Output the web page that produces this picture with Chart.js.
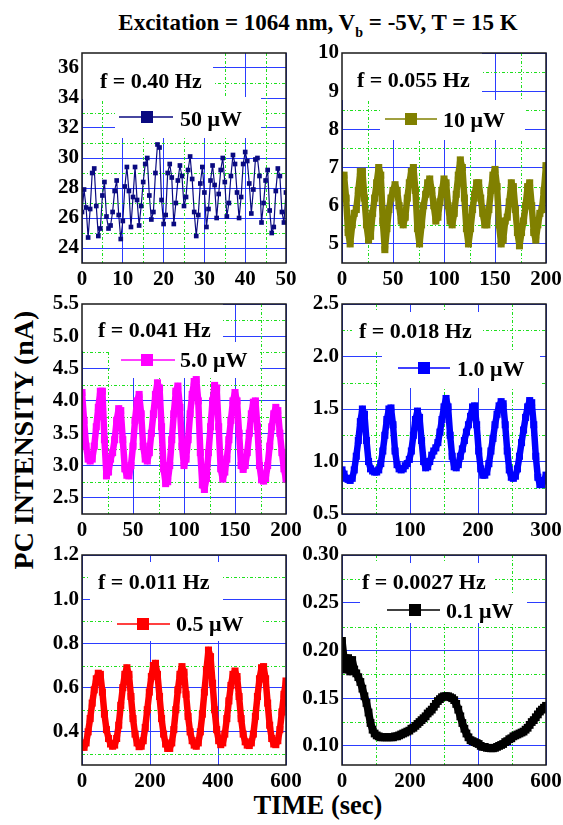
<!DOCTYPE html>
<html>
<head>
<meta charset="utf-8">
<script src="https://cdn.jsdelivr.net/npm/chart.js@4.4.0/dist/chart.umd.min.js"></script>
<style>
  html, body { margin: 0; padding: 0; background: #fff; }
  #page { position: relative; width: 563px; height: 825px; overflow: hidden;
          font-family: 'Liberation Serif', 'Times New Roman', serif; font-weight: bold; color: #000; }
  #page canvas { position: absolute; }
  .txt { position: absolute; white-space: nowrap; transform: translate(-50%, -50%); }
  #title { left: 318px; top: 23px; font-size: 23px; }
  #title .sub { font-size: 14px; position: relative; top: 7px; }
  #ylab { left: 24px; top: 440px; font-size: 28px; transform: translate(-50%, -50%) rotate(-90deg); }
  #xlab { left: 318px; top: 805px; font-size: 26.5px; }
</style>
</head>
<body>
<div id="page">
  <div id="title" class="txt">Excitation = 1064 nm, V<span class="sub">b</span> = -5V, T = 15 K</div>
  <div id="ylab" class="txt">PC INTENSITY (nA)</div>
  <div id="xlab" class="txt">TIME (sec)</div>
</div>
<script>
// ---- panel 1: f = 0.40 Hz, 50 uW, one sample every 0.5 s
const p1Step = 0.5;
const p1Values = [
  26.4, 27.9, 26.7, 24.7, 26.6, 29.0, 29.3, 26.8, 24.8, 25.3,
  27.5, 28.4, 26.1, 25.3, 25.5, 26.4, 27.8, 28.5, 26.2, 24.6,
  25.8, 28.1, 29.4, 27.8, 25.4, 27.4, 29.4, 27.2, 25.5, 26.8,
  28.4, 29.6, 30.0, 27.5, 25.9, 26.4, 29.0, 30.9, 30.7, 27.2,
  25.6, 26.2, 29.0, 29.6, 28.7, 25.6, 27.0, 28.5, 29.5, 28.8,
  26.8, 27.4, 29.2, 30.1, 28.6, 26.4, 24.8, 26.2, 28.3, 29.4,
  27.7, 25.4, 26.6, 28.5, 29.5, 28.2, 26.0, 27.6, 29.2, 30.0,
  28.4, 26.1, 27.0, 28.8, 30.2, 29.6, 27.7, 26.0, 27.4, 29.6,
  30.4, 29.8, 28.3, 26.3, 27.9, 29.9, 30.0, 28.8, 25.7, 27.0,
  28.5, 29.2, 26.5, 25.0, 25.4, 27.8, 29.3, 28.8, 26.4, 25.7,
  27.7
];
const p1XTicks = [0, 10, 20, 30, 40, 50];
const p1XMinor = [5, 15, 25, 35, 45];
const p1YTicks = [24, 26, 28, 30, 32, 34, 36];
const p1YMinor = [25, 27, 29, 31, 33, 35];

// ---- panel 2: f = 0.055 Hz, 10 uW, every 2 s
const p2Step = 2;
const p2Values = [
  6.6, 6.8, 6.2, 5.3, 5.0, 5.5, 5.8, 5.9, 6.4, 6.9,
  6.9, 6.2, 5.5, 5.1, 5.2, 5.8, 6.2, 6.6, 7.0, 6.8,
  5.6, 4.85, 5.4, 5.9, 6.2, 6.4, 6.55, 6.4, 6.0, 5.6,
  5.5, 5.7, 6.2, 6.6, 6.9, 7.0, 6.4, 5.4, 5.0, 5.5,
  6.0, 6.3, 6.6, 6.7, 6.4, 6.0, 5.6, 5.7, 6.1, 6.4,
  6.7, 6.6, 6.0, 5.6, 5.5, 5.8, 6.3, 6.8, 7.2, 7.0,
  6.2, 5.4, 5.0, 5.4, 5.9, 6.3, 6.6, 6.6, 6.2, 5.8,
  5.5, 5.5, 5.9, 6.4, 6.8, 6.95, 6.5, 5.5, 5.0, 5.1,
  5.6, 5.7, 6.1, 6.6, 6.5, 5.9, 5.3, 4.95, 5.3, 5.6,
  6.0, 6.5, 6.6, 6.0, 5.3, 5.1, 5.5, 5.8, 5.9, 6.4,
  7.05
];
const p2XTicks = [0, 50, 100, 150, 200];
const p2XMinor = [25, 75, 125, 175];
const p2YTicks = [5, 6, 7, 8, 9, 10];
const p2YMinor = [5.5, 6.5, 7.5, 8.5, 9.5];

// ---- panel 3: f = 0.041 Hz, 5.0 uW, every 2 s
const p3Step = 2;
const p3Values = [
  4.13, 3.7, 3.3, 3.1, 3.07, 3.1, 3.3, 3.6, 3.9, 4.15,
  4.15, 3.4, 2.84, 2.9, 3.1, 3.2, 3.4, 3.7, 3.88, 3.85,
  3.4, 2.95, 2.85, 2.84, 3.0, 3.3, 3.7, 4.0, 4.1, 3.8,
  3.3, 3.1, 3.07, 3.2, 3.5, 3.8, 4.1, 4.28, 4.2, 3.6,
  2.95, 2.72, 2.75, 3.0, 3.4, 3.8, 4.15, 4.23, 3.9, 3.3,
  3.0, 3.1, 3.4, 3.8, 4.1, 4.3, 4.33, 4.0, 3.2, 2.7,
  2.63, 2.8, 3.2, 3.6, 4.0, 4.24, 4.2, 3.6, 2.95, 2.79,
  2.9, 3.1, 3.4, 3.7, 4.0, 4.13, 4.0, 3.5, 3.0, 2.94,
  3.0, 3.2, 3.5, 3.8, 3.98, 4.0, 3.6, 3.0, 2.78, 2.76,
  2.8, 3.0, 3.3, 3.6, 3.8, 3.9, 3.85, 3.5, 3.2, 2.95,
  2.79
];
const p3XTicks = [0, 50, 100, 150, 200];
const p3XMinor = [25, 75, 125, 175];
const p3YTicks = [2.5, 3.0, 3.5, 4.0, 4.5, 5.0, 5.5];
const p3YMinor = [2.75, 3.25, 3.75, 4.25, 4.75, 5.25];

// ---- panel 4: f = 0.018 Hz, 1.0 uW, every 3 s
const p4Step = 3;
const p4Values = [
  0.92, 0.88, 0.84, 0.83, 0.82, 0.84, 0.92, 1.05, 1.2, 1.38,
  1.5, 1.45, 1.2, 1.0, 0.93, 0.91, 0.9, 0.9, 0.92, 0.98,
  1.1, 1.25, 1.4, 1.5, 1.51, 1.35, 1.1, 0.97, 0.93, 0.92,
  0.93, 0.96, 0.98, 1.02, 1.1, 1.25, 1.4, 1.48, 1.42, 1.2,
  1.0, 0.94, 0.95, 1.0, 1.06, 1.1, 1.13, 1.18, 1.28, 1.4,
  1.52, 1.6, 1.52, 1.25, 1.05, 0.95, 0.94, 0.97, 1.05, 1.12,
  1.2, 1.28, 1.35, 1.43, 1.52, 1.53, 1.35, 1.1, 0.93, 0.87,
  0.87, 0.9, 0.98, 1.1, 1.22, 1.35, 1.45, 1.53, 1.57, 1.55,
  1.35, 1.1, 0.92, 0.85, 0.84, 0.86, 0.93, 1.05, 1.18, 1.3,
  1.42, 1.52, 1.58, 1.56, 1.35, 1.05, 0.85, 0.78, 0.78, 0.82,
  0.87
];
const p4XTicks = [0, 100, 200, 300];
const p4XMinor = [50, 150, 250];
const p4YTicks = [0.5, 1.0, 1.5, 2.0, 2.5];
const p4YMinor = [0.75, 1.25, 1.75, 2.25];

// ---- panel 5: f = 0.011 Hz, 0.5 uW, every 6 s
const p5Step = 6;
const p5Values = [
  0.34, 0.33, 0.35, 0.40, 0.46, 0.53, 0.59, 0.64, 0.665, 0.66,
  0.58, 0.48, 0.41, 0.37, 0.345, 0.335, 0.34, 0.37, 0.43, 0.52,
  0.6, 0.66, 0.69, 0.66, 0.56, 0.46, 0.39, 0.35, 0.333, 0.335,
  0.36, 0.42, 0.5, 0.58, 0.65, 0.7, 0.71, 0.66, 0.56, 0.46,
  0.39, 0.345, 0.325, 0.325, 0.35, 0.41, 0.5, 0.59, 0.66, 0.695,
  0.67, 0.57, 0.47, 0.4, 0.36, 0.34, 0.335, 0.35, 0.4, 0.48,
  0.58, 0.68, 0.77, 0.74, 0.62, 0.5, 0.41, 0.36, 0.342, 0.35,
  0.39, 0.46, 0.54, 0.61, 0.66, 0.675, 0.65, 0.56, 0.46, 0.39,
  0.355, 0.34, 0.338, 0.35, 0.39, 0.47, 0.56, 0.64, 0.69, 0.695,
  0.64, 0.53, 0.43, 0.37, 0.345, 0.342, 0.36, 0.41, 0.49, 0.57,
  0.63
];
const p5XTicks = [0, 200, 400, 600];
const p5XMinor = [];
const p5YTicks = [0.4, 0.6, 0.8, 1.0, 1.2];
const p5YMinor = [0.3, 0.5, 0.7, 0.9, 1.1];

// ---- panel 6: f = 0.0027 Hz, 0.1 uW, every 6 s
const p6Step = 6;
const p6Values = [
  0.21, 0.19, 0.18, 0.192, 0.178, 0.19, 0.18, 0.176, 0.172, 0.167,
  0.16, 0.152, 0.145, 0.135, 0.124, 0.117, 0.113, 0.111, 0.11, 0.109,
  0.109, 0.109, 0.109, 0.109, 0.109, 0.109, 0.11, 0.11, 0.111, 0.112,
  0.113, 0.114, 0.115, 0.116, 0.118, 0.119, 0.121, 0.123, 0.125, 0.127,
  0.129, 0.131, 0.134, 0.136, 0.138, 0.141, 0.144, 0.147, 0.149, 0.151,
  0.152, 0.152, 0.152, 0.151, 0.15, 0.148, 0.144, 0.138, 0.131, 0.124,
  0.118, 0.113, 0.109, 0.106, 0.105, 0.104, 0.103, 0.102, 0.1, 0.099,
  0.099, 0.098, 0.098, 0.0975, 0.0975, 0.098, 0.099, 0.1, 0.101, 0.102,
  0.104, 0.105, 0.107, 0.108, 0.11, 0.111, 0.112, 0.113, 0.114, 0.115,
  0.117, 0.119, 0.122, 0.125, 0.127, 0.13, 0.133, 0.136, 0.138, 0.14,
  0.142
];
const p6XTicks = [0, 200, 400, 600];
const p6XMinor = [100, 300, 500];
const p6YTicks = [0.10, 0.15, 0.20, 0.25, 0.30];
const p6YMinor = [0.125, 0.175, 0.225, 0.275];

const FONT = "'Liberation Serif', 'Times New Roman', serif";
const PLOT_W = 204;
const PLOT_H = 210;
const AXIS_W = 60;
const AXIS_H = 32;
const PAD_T = 16;
const PAD_R = 26;

const panels = [
  { left: 82, top: 53, values: p1Values, step: p1Step, xMin: 0, xMax: 50, yMin: 23, yMax: 37,
    xTicks: p1XTicks, xMinor: p1XMinor, yTicks: p1YTicks, yMinor: p1YMinor, yDec: 0,
    color: '#0a0a80', lineWidth: 1.2, radius: 3.3,
    label: 'f = 0.40 Hz', labelPos: [18, 35], legend: '50 \u03BCW', legendPos: [37, 91, 65, 98, 64, 73],
    boxes: [[0, 0, 131, 46], [33, 44, 146, 41]] },
  { left: 342, top: 53, values: p2Values, step: p2Step, xMin: 0, xMax: 200, yMin: 4.5, yMax: 10,
    xTicks: p2XTicks, xMinor: p2XMinor, yTicks: p2YTicks, yMinor: p2YMinor, yDec: 0,
    color: '#808000', lineWidth: 6.5, radius: 5,
    label: 'f = 0.055 Hz', labelPos: [15, 34], legend: '10 \u03BCW', legendPos: [43, 95, 69, 101, 66, 74],
    boxes: [[0, 0, 140, 47], [38, 47, 145, 40]] },
  { left: 82, top: 304, values: p3Values, step: p3Step, xMin: 0, xMax: 200, yMin: 2.25, yMax: 5.5,
    xTicks: p3XTicks, xMinor: p3XMinor, yTicks: p3YTicks, yMinor: p3YMinor, yDec: 1,
    color: '#ff00ff', lineWidth: 6.5, radius: 5,
    label: 'f = 0.041 Hz', labelPos: [16, 33], legend: '5.0 \u03BCW', legendPos: [39, 93, 65, 98, 56, 63],
    boxes: [[0, 0, 141, 47], [28, 38, 150, 36]] },
  { left: 342, top: 304, values: p4Values, step: p4Step, xMin: 0, xMax: 300, yMin: 0.5, yMax: 2.5,
    xTicks: p4XTicks, xMinor: p4XMinor, yTicks: p4YTicks, yMinor: p4YMinor, yDec: 1,
    color: '#0000ff', lineWidth: 6.5, radius: 5,
    label: 'f = 0.018 Hz', labelPos: [17, 34], legend: '1.0 \u03BCW', legendPos: [56, 108, 82, 115, 64, 72],
    boxes: [[10, 8, 130, 40], [40, 46, 158, 38]] },
  { left: 82, top: 555, values: p5Values, step: p5Step, xMin: 0, xMax: 600, yMin: 0.25, yMax: 1.2,
    xTicks: p5XTicks, xMinor: p5XMinor, yTicks: p5YTicks, yMinor: p5YMinor, yDec: 1,
    color: '#ff0000', lineWidth: 6.5, radius: 5,
    label: 'f = 0.011 Hz', labelPos: [16, 34], legend: '0.5 \u03BCW', legendPos: [35, 88, 61, 94, 69, 76],
    boxes: [[8, 7, 133, 48], [30, 55, 151, 31]] },
  { left: 342, top: 555, values: p6Values, step: p6Step, xMin: 0, xMax: 600, yMin: 0.08, yMax: 0.30,
    xTicks: p6XTicks, xMinor: p6XMinor, yTicks: p6YTicks, yMinor: p6YMinor, yDec: 2,
    color: '#000000', lineWidth: 7.5, radius: 5.5,
    label: 'f = 0.0027 Hz', labelPos: [20, 34], legend: '0.1 \u03BCW', legendPos: [45, 98, 73, 104, 55, 63],
    boxes: [[18, 8, 135, 40], [30, 40, 155, 28]] }
];

// green minor grid, white boxes behind the texts, then frame + texts on top
const panelDecor = {
  id: 'panelDecor',
  beforeDatasetsDraw(chart, args, opts) {
    const { ctx, chartArea: a, scales: { x, y } } = chart;
    ctx.save();
    ctx.beginPath();
    ctx.rect(a.left, a.top, a.width, a.height);
    ctx.clip();
    ctx.strokeStyle = '#1ee01e';
    ctx.lineWidth = 1;
    ctx.setLineDash([3, 2, 1, 2]);
    opts.xMinor.forEach(v => {
      const px = Math.round(x.getPixelForValue(v)) + 0.5;
      ctx.beginPath(); ctx.moveTo(px, a.top); ctx.lineTo(px, a.bottom); ctx.stroke();
    });
    opts.yMinor.forEach(v => {
      const py = Math.round(y.getPixelForValue(v)) + 0.5;
      ctx.beginPath(); ctx.moveTo(a.left, py); ctx.lineTo(a.right, py); ctx.stroke();
    });
    ctx.setLineDash([]);
    ctx.fillStyle = '#fff';
    opts.boxes.forEach(b => ctx.fillRect(a.left + b[0], a.top + b[1], b[2], b[3]));
    ctx.restore();
  },
  afterDatasetsDraw(chart, args, opts) {
    const { ctx, chartArea: a } = chart;
    ctx.save();
    ctx.strokeStyle = '#1a1a1a';
    ctx.lineWidth = 1.5;
    ctx.strokeRect(a.left, a.top, a.width, a.height);

    ctx.fillStyle = '#000';
    ctx.font = `bold 22px ${FONT}`;
    ctx.textBaseline = 'alphabetic';
    ctx.fillText(opts.label, a.left + opts.labelPos[0], a.top + opts.labelPos[1]);

    const [l0, l1, mx, tx, ly, ty] = opts.legendPos;
    ctx.strokeStyle = opts.color;
    ctx.lineWidth = 1.5;
    ctx.beginPath();
    ctx.moveTo(a.left + l0, a.top + ly);
    ctx.lineTo(a.left + l1, a.top + ly);
    ctx.stroke();
    ctx.fillStyle = opts.color;
    ctx.fillRect(a.left + mx - 6, a.top + ly - 6, 12, 12);
    ctx.fillStyle = '#000';
    ctx.fillText(opts.legend, a.left + tx, a.top + ty);
    ctx.restore();
  }
};

const page = document.getElementById('page');

panels.forEach(p => {
  const canvas = document.createElement('canvas');
  canvas.width = AXIS_W + PLOT_W + PAD_R;
  canvas.height = PAD_T + PLOT_H + AXIS_H;
  canvas.style.left = (p.left - AXIS_W) + 'px';
  canvas.style.top = (p.top - PAD_T) + 'px';
  canvas.style.width = canvas.width + 'px';
  canvas.style.height = canvas.height + 'px';
  page.appendChild(canvas);

  const tickFont = { family: FONT, size: 21, weight: 'bold' };

  new Chart(canvas, {
    type: 'line',
    data: {
      datasets: [{
        data: p.values.map((v, i) => ({ x: i * p.step, y: v })),
        borderColor: p.color,
        backgroundColor: p.color,
        borderWidth: p.lineWidth,
        borderJoinStyle: 'round',
        borderCapStyle: 'round',
        pointStyle: 'rect',
        pointRadius: p.radius,
        pointBorderWidth: 0,
        tension: 0
      }]
    },
    options: {
      responsive: false,
      animation: false,
      events: [],
      layout: { padding: { top: PAD_T, right: PAD_R, left: 0, bottom: 0 } },
      plugins: {
        legend: { display: false },
        tooltip: { enabled: false },
        panelDecor: {
          xMinor: p.xMinor, yMinor: p.yMinor, boxes: p.boxes,
          label: p.label, labelPos: p.labelPos, legend: p.legend, legendPos: p.legendPos, color: p.color
        }
      },
      scales: {
        x: {
          type: 'linear',
          min: p.xMin,
          max: p.xMax,
          afterBuildTicks: s => { s.ticks = p.xTicks.map(v => ({ value: v })); },
          afterFit: s => { s.height = AXIS_H; },
          border: { display: false },
          grid: { color: '#2b3dff', lineWidth: 1, drawTicks: false },
          ticks: { color: '#000', font: tickFont, padding: 4, maxRotation: 0, autoSkip: false,
                   callback: v => String(v) }
        },
        y: {
          type: 'linear',
          min: p.yMin,
          max: p.yMax,
          afterBuildTicks: s => { s.ticks = p.yTicks.map(v => ({ value: v })); },
          afterFit: s => { s.width = AXIS_W; },
          border: { display: false },
          grid: { color: '#2b3dff', lineWidth: 1, drawTicks: false },
          ticks: { color: '#000', font: tickFont, padding: 3, autoSkip: false,
                   callback: v => Number(v).toFixed(p.yDec) }
        }
      }
    },
    plugins: [panelDecor]
  });
});
</script>
</body>
</html>
